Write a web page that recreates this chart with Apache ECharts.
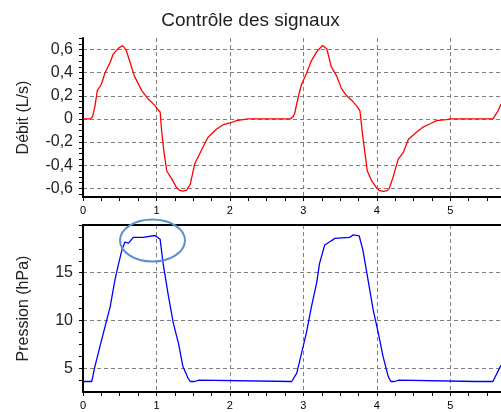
<!DOCTYPE html>
<html>
<head>
<meta charset="utf-8">
<script src="https://cdn.jsdelivr.net/npm/echarts@6/dist/echarts.min.js"></script>
<style>
html,body{margin:0;padding:0;background:#fff;}
#chart{width:501px;height:412px;}
</style>
</head>
<body>
<div id="chart"></div>
<script>
// ---- Data ----
var titleText = 'Contrôle des signaux';
var flowName = 'Débit (L/s)';
var pressureName = 'Pression (hPa)';

var flowTime = [0,0.10,0.13,0.16,0.195,0.25,0.30,0.37,0.41,0.48,0.54,0.59,0.64,0.70,0.80,0.89,0.98,1.02,1.05,1.07,1.10,1.14,1.21,1.27,1.31,1.36,1.41,1.46,1.52,1.62,1.70,1.82,1.91,2.00,2.09,2.18,2.25,2.82,2.86,2.88,2.93,2.975,3.04,3.11,3.18,3.26,3.32,3.38,3.45,3.52,3.59,3.66,3.74,3.77,3.81,3.87,3.93,4.00,4.04,4.09,4.14,4.17,4.22,4.29,4.36,4.43,4.54,4.63,4.74,4.81,4.95,5.00,5.58,5.65,5.69];
var flowValues = [0,0,0.02,0.10,0.245,0.30,0.40,0.49,0.56,0.61,0.635,0.59,0.49,0.37,0.245,0.17,0.115,0.08,0.06,-0.10,-0.275,-0.45,-0.52,-0.59,-0.615,-0.625,-0.615,-0.565,-0.39,-0.26,-0.16,-0.087,-0.05,-0.035,-0.015,-0.005,0,0,0.02,0.045,0.19,0.30,0.39,0.505,0.58,0.635,0.605,0.45,0.375,0.26,0.20,0.16,0.10,0.07,-0.16,-0.45,-0.535,-0.60,-0.62,-0.627,-0.62,-0.6,-0.505,-0.35,-0.29,-0.175,-0.115,-0.07,-0.037,-0.015,-0.005,0,0,0.07,0.13];

var pressureTime = [0,0.12,0.16,0.23,0.30,0.37,0.435,0.48,0.53,0.57,0.62,0.685,0.82,0.98,1.0,1.05,1.09,1.16,1.23,1.30,1.36,1.43,1.46,1.52,1.54,1.58,1.60,2.84,2.91,2.975,3.04,3.11,3.18,3.22,3.29,3.36,3.43,3.63,3.68,3.76,3.81,3.88,3.95,4.02,4.085,4.155,4.19,4.24,4.26,4.30,4.31,5.35,5.36,5.37,5.58,5.67,5.69];
var pressureValues = [3.6,3.6,5.1,7.26,9.35,11.44,14.24,15.8,17.4,18.2,18.1,18.7,18.7,18.9,18.94,18.5,16.0,12.67,9.7,7.6,5.17,3.95,3.6,3.6,3.75,3.75,3.6,3.6,4.48,6.57,8.66,11.44,13.9,15.98,17.9,18.24,18.6,18.7,18.97,18.85,17.37,14.24,11.1,8.66,6.2,4.12,3.6,3.6,3.75,3.75,3.6,3.6,3.5,3.6,3.6,5.0,5.3];

// tick labels / ticks
var xLabels = [0,1,2,3,4,5];
var xMinorTicks = [0,0.25,0.5,0.75,1,1.25,1.5,1.75,2,2.25,2.5,2.75,3,3.25,3.5,3.75,4,4.25,4.5,4.75,5,5.25,5.5];
var flowLabels = [-0.6,-0.4,-0.2,0,0.2,0.4,0.6];
var flowTicks = [-0.65,-0.6,-0.55,-0.5,-0.45,-0.4,-0.35,-0.3,-0.25,-0.2,-0.15,-0.1,-0.05,0,0.05,0.1,0.15,0.2,0.25,0.3,0.35,0.4,0.45,0.5,0.55,0.6,0.65,0.7];
var pressureLabels = [5,10,15];
var pressureTicks = [3.75,5,6.25,7.5,8.75,10,11.25,12.5,13.75,15,16.25,17.5,18.75,20];

var xRange = [0, 5.69];
var flowRange = [-0.675, 0.70];
var pressureRange = [2.5, 20];

// annotation ellipse (data coords of pressure panel)
var ellipseCenter = [0.946, 18.37];
var ellipseRadius = [0.442, 2.2];

function zip(a, b){ return a.map(function(v,i){ return [v, b[i]]; }); }
function fmt(v){ return String(+(+v).toFixed(2)).replace('.', ','); }

var FONT = '"Liberation Sans", Arial, sans-serif';
var gridLine = {show:true, lineStyle:{color:'#808080', type:[4,3], width:1}};

function mainX(gi){
  return {type:'value', gridIndex:gi, position:'bottom', min:xRange[0], max:xRange[1],
    axisLine:{show:true, onZero:false, lineStyle:{color:'#000', width:2}},
    axisTick:{show:true, length:4, customValues:xMinorTicks, lineStyle:{color:'#000'}},
    axisLabel:{show:true, customValues:xLabels, margin:8, fontSize:11, color:'#000', fontFamily:FONT},
    splitLine:{show:false}};
}
function overX(gi, border){
  return {type:'value', gridIndex:gi, position:'top', min:xRange[0], max:xRange[1],
    axisLine:{show:border, onZero:false, lineStyle:{color:'#000', width:2}},
    axisTick:{show:false, customValues:xLabels},
    axisLabel:{show:false},
    splitLine:gridLine};
}
function mainY(gi, range, ticks, labels, name){
  return {type:'value', gridIndex:gi, position:'left', min:range[0], max:range[1],
    name:name, nameLocation:'middle', nameGap:51, nameRotate:90,
    nameTextStyle:{fontSize:16, color:'#222', fontFamily:FONT},
    axisLine:{show:true, onZero:false, lineStyle:{color:'#000', width:2}},
    axisTick:{show:true, length:4, customValues:ticks, lineStyle:{color:'#000'}},
    axisLabel:{show:true, customValues:labels, margin:10, fontSize:16, color:'#222', fontFamily:FONT, formatter:fmt},
    splitLine:{show:false}};
}
function overY(gi, range, labels){
  return {type:'value', gridIndex:gi, position:'right', min:range[0], max:range[1],
    axisLine:{show:false}, axisTick:{show:false, customValues:labels}, axisLabel:{show:false},
    splitLine:gridLine};
}

var chart = echarts.init(document.getElementById('chart'), null, {renderer:'canvas'});
var option = {
  animation:false,
  backgroundColor:'#fff',
  title:{text:titleText, left:'center', top:6, textStyle:{fontSize:19, fontWeight:'normal', color:'#222', fontFamily:FONT}},
  grid:[
    {left:83, right:0, top:38, height:159, containLabel:false},
    {left:83, right:0, top:225, height:167, containLabel:false}
  ],
  xAxis:[mainX(0), overX(0,false), mainX(1), overX(1,true)],
  yAxis:[
    mainY(0, flowRange, flowTicks, flowLabels, flowName),
    overY(0, flowRange, flowLabels),
    mainY(1, pressureRange, pressureTicks, pressureLabels, pressureName),
    overY(1, pressureRange, pressureLabels)
  ],
  series:[
    {type:'line', xAxisIndex:0, yAxisIndex:0, data:zip(flowTime, flowValues), showSymbol:false, symbol:'none',
     lineStyle:{color:'#ff0000', width:1.3}, itemStyle:{color:'#ff0000'}, z:5},
    {type:'line', xAxisIndex:2, yAxisIndex:2, data:zip(pressureTime, pressureValues), showSymbol:false, symbol:'none',
     lineStyle:{color:'#0000ff', width:1.3}, itemStyle:{color:'#0000ff'}, z:5}
  ]
};
chart.setOption(option);

var c = chart.convertToPixel({xAxisIndex:2, yAxisIndex:2}, ellipseCenter);
var e = chart.convertToPixel({xAxisIndex:2, yAxisIndex:2}, [ellipseCenter[0]+ellipseRadius[0], ellipseCenter[1]+ellipseRadius[1]]);
chart.setOption({graphic:[{type:'ellipse', z:100, shape:{cx:c[0], cy:c[1], rx:Math.abs(e[0]-c[0]), ry:Math.abs(e[1]-c[1])},
  style:{fill:'none', stroke:'#5b8fcf', lineWidth:2}}]});
</script>
</body>
</html>
